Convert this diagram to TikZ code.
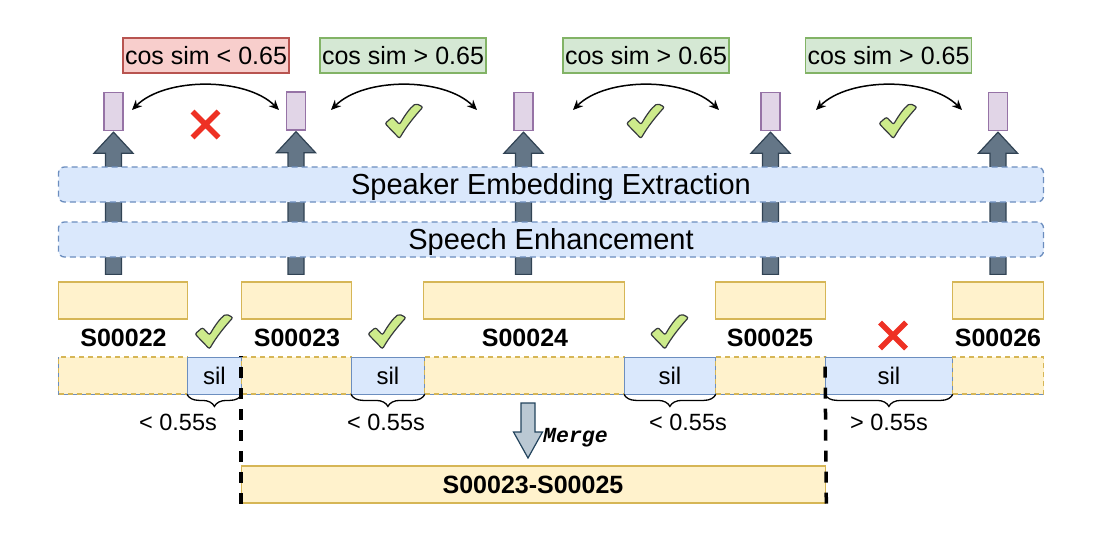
\documentclass[tikz,border=0pt]{standalone}
\usepackage{fontspec}
\setmainfont{Liberation Sans}
\newfontfamily\mergefont{Liberation Mono}
\usetikzlibrary{arrows.meta,decorations.pathreplacing,calc}
\definecolor{redfill}{HTML}{F8CECC}
\definecolor{redline}{HTML}{B85450}
\definecolor{grnfill}{HTML}{D5E8D4}
\definecolor{grnline}{HTML}{82B366}
\definecolor{purfill}{HTML}{E1D5E7}
\definecolor{purline}{HTML}{9673A6}
\definecolor{bluefill}{HTML}{DAE8FC}
\definecolor{blueline}{HTML}{6C8EBF}
\definecolor{yelfill}{HTML}{FFF2CC}
\definecolor{yelline}{HTML}{D6B656}
\definecolor{arrfill}{HTML}{647687}
\definecolor{arrline}{HTML}{314354}
\definecolor{mgfill}{HTML}{BAC8D3}
\definecolor{mgline}{HTML}{23445D}
\definecolor{checkfill}{HTML}{CDEB8B}
\definecolor{checkline}{HTML}{36393D}
\definecolor{crossred}{HTML}{EE3124}
\newcommand\upfat[2]{%
  \path[fill=arrfill,draw=arrline,line width=1.2pt,line join=miter]
  let \p1=(#1.north), \p2=(#2.south) in
  (\x2-8pt,\y1+7pt) -- (\x2-8pt,\y2-22pt) -- (\x2-19.5pt,\y2-22pt) -- (\x2,\y2-1pt)
  -- (\x2+19.5pt,\y2-22pt) -- (\x2+8pt,\y2-22pt) -- (\x2+8pt,\y1+7pt) -- cycle;}
\begin{document}
\begin{tikzpicture}[x=1pt,y=-1pt,
  simbox/.style={draw, line width=1.3pt, minimum width=166pt, minimum height=35pt, inner sep=0pt,
    text height=18pt, text depth=0pt, font=\fontsize{25}{25}\selectfont},
  simbad/.style={simbox, fill=redfill, draw=redline},
  simgood/.style={simbox, fill=grnfill, draw=grnline},
  embbox/.style={draw=purline, fill=purfill, line width=1.3pt, minimum width=19pt, minimum height=38pt, inner sep=0pt},
  band/.style={draw=blueline, fill=bluefill, line width=1.3pt, dash pattern=on 6pt off 4pt,
    rounded corners=6pt, minimum width=985pt, minimum height=35pt, inner sep=0pt,
    text height=20.5pt, text depth=0pt, font=\fontsize{29}{29}\selectfont},
  segbox/.style={draw=yelline, fill=yelfill, line width=1.3pt, minimum height=37pt, inner sep=0pt, anchor=west},
  segdash/.style={segbox, dash pattern=on 5pt off 4pt},
  silbox/.style={draw=blueline, fill=bluefill, line width=0.8pt, minimum height=37pt, inner sep=0pt, anchor=west,
    font=\fontsize{24}{24}\selectfont},
  seglabel/.style={font=\bfseries\fontsize{25}{25}\selectfont, inner sep=0pt},
  durlabel/.style={font=\fontsize{23.5}{23.5}\selectfont, inner sep=0pt},
  simarrow/.style={{Stealth[length=10pt,width=9pt]}-{Stealth[length=10pt,width=9pt]}, line width=1.5pt},
  bracestyle/.style={decorate, decoration={brace, mirror, amplitude=12pt}, line width=1.3pt},
  cutline/.style={line width=3.5pt, dash pattern=on 11pt off 10pt},
  checkmk/.pic={\path[fill=checkfill,draw=checkline,line width=1.2pt,rounded corners=2pt]
    (-19,2.5) -- (-11.5,-4) -- (-4.5,3.5) .. controls (1,-6) and (6,-13) .. (12,-17.5)
    -- (19,-14) .. controls (10,-4) and (2,6) .. (-4.5,17.5) -- cycle;},
  crossmk/.pic={\draw[crossred,line width=5.5pt] (-13,-13) -- (13,13) (-13,13) -- (13,-13);}
]
\useasboundingbox (0,0) rectangle (1104,538);

% similarity boxes
\node[simbad]  (s1) at (206,55.5) {cos sim < 0.65};
\node[simgood] (s2) at (403,55.5) {cos sim > 0.65};
\node[simgood] (s3) at (646,55.5) {cos sim > 0.65};
\node[simgood] (s4) at (888.5,55.5) {cos sim > 0.65};

% embeddings
\node[embbox] (e1) at (113.5,111.5) {};
\node[embbox] (e2) at (296,111) {};
\node[embbox] (e3) at (523.5,111.5) {};
\node[embbox] (e4) at (770.5,111.5) {};
\node[embbox] (e5) at (998,111.5) {};

% segment boxes
\node[segbox, minimum width=129pt] (y1) at (58,300.5) {};
\node[segbox, minimum width=110pt] (y2) at (241,300.5) {};
\node[segbox, minimum width=201pt] (y3) at (423,300.5) {};
\node[segbox, minimum width=110pt] (y4) at (715,300.5) {};
\node[segbox, minimum width=91pt]  (y5) at (952,300.5) {};

% fat arrows
\upfat{y1}{e1}
\upfat{y2}{e2}
\upfat{y3}{e3}
\upfat{y4}{e4}
\upfat{y5}{e5}

% bands
\node[band] (spk) at (551,184.5) {Speaker Embedding Extraction};
\node[band] (enh) at (551,239.5) {Speech Enhancement};

% similarity arrows
\coordinate (a1l) at (132,110); \coordinate (a1r) at (279,110);
\coordinate (a2l) at (331,110); \coordinate (a2r) at (477,110);
\coordinate (a3l) at (573,110); \coordinate (a3r) at (719,110);
\coordinate (a4l) at (816,110); \coordinate (a4r) at (962,110);
\foreach \i in {1,2,3,4}{
  \draw[simarrow] (a\i l) .. controls +(33,-33) and +(-33,-33) .. (a\i r);
}

% top marks
\pic at (205.5,124.5) {crossmk};
\pic at (404,121) {checkmk};
\pic at (645.5,121) {checkmk};
\pic at (898,121) {checkmk};

% segment labels
\node[seglabel] (l1) at (123.5,338) {S00022};
\node[seglabel] (l2) at (297,338) {S00023};
\node[seglabel] (l3) at (525,338) {S00024};
\node[seglabel] (l4) at (770,338) {S00025};
\node[seglabel] (l5) at (998,338) {S00026};

% bottom marks
\pic at (214,331.5) {checkmk};
\pic at (387,331.5) {checkmk};
\pic at (669.5,331.5) {checkmk};
\pic at (893,335.5) {crossmk};

% timeline bar
\draw[blueline, line width=0.8pt] (58,357) rectangle (1043,394);
\node[segdash, minimum width=129pt] (t1) at (58,375.5) {};
\node[silbox,  minimum width=54pt]  (p1) at (187,375.5) {sil};
\node[segdash, minimum width=110pt] (t2) at (241,375.5) {};
\node[silbox,  minimum width=73pt]  (p2) at (351,375.5) {sil};
\node[segdash, minimum width=200pt] (t3) at (424,375.5) {};
\node[silbox,  minimum width=91pt]  (p3) at (624,375.5) {sil};
\node[segdash, minimum width=110pt] (t4) at (715,375.5) {};
\node[silbox,  minimum width=127pt] (p4) at (825,375.5) {sil};
\node[segdash, minimum width=91pt]  (t5) at (952,375.5) {};

% braces
\foreach \i in {1,2,3,4}{
  \draw[bracestyle] (p\i.south west) -- (p\i.south east);
}
\node[durlabel] (d1) at (178,422) {< 0.55s};
\node[durlabel] (d2) at (386,422) {< 0.55s};
\node[durlabel] (d3) at (688,422) {< 0.55s};
\node[durlabel] (d4) at (889,422) {> 0.55s};

% merged segment
\node[segbox, minimum width=584pt] (mg) at (241,484.5) {};
\node[seglabel] (mgl) at (533,485) {S00023-S00025};

% cut lines
\draw[cutline] (mg.south west) -- (t2.north west);
\draw[cutline] (mg.south east) -- (p4.north west);

% merge arrow
\coordinate (mtop) at (528,403);
\coordinate (mtip) at (528,458);
\path[fill=mgfill,draw=mgline,line width=1.2pt]
  let \p1=(mtop), \p2=(mtip) in
  (\x1-7pt,\y1) -- (\x1-7pt,\y2+26pt) -- (\x1-14.5pt,\y2+26pt) -- (\x2,\y2)
  -- (\x1+14.5pt,\y2+26pt) -- (\x1+7pt,\y2+26pt) -- (\x1+7pt,\y1) -- cycle;
\node[font=\mergefont\bfseries\itshape\fontsize{21.5}{21.5}\selectfont, inner sep=0pt] (mtxt) at (575.5,438) {Merge};
\end{tikzpicture}
\end{document}
